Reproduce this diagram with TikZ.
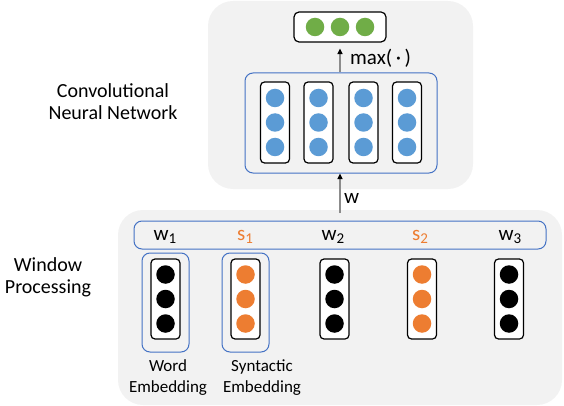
\documentclass[tikz,border=0pt]{standalone}
\usepackage{fontspec}
\setmainfont{Carlito}
\usetikzlibrary{arrows.meta}
\definecolor{panel}{HTML}{F2F2F2}
\definecolor{frameblue}{HTML}{4472C4}
\definecolor{dotblue}{HTML}{5B9BD5}
\definecolor{dotgreen}{HTML}{70AD47}
\definecolor{dotorange}{HTML}{ED7D31}
\definecolor{shaft}{HTML}{8C8C8C}
\newcommand{\sub}[1]{\raisebox{-0.35ex}{\fontsize{15}{15}\selectfont #1}}
\begin{document}
\begin{tikzpicture}[x=1pt,y=-1pt,
  panelbox/.style={fill=panel, draw=none, rounded corners=25pt, inner sep=0pt},
  groupbox/.style={draw=frameblue, line width=1pt, rounded corners=8pt, inner sep=0pt},
  vecbox/.style={draw=black, line width=1.2pt, rounded corners=4pt, fill=white, inner sep=0pt,
                 minimum width=29pt, minimum height=81pt},
  unit/.style={circle, inner sep=0pt, minimum size=18.5pt},
  lbl/.style={font=\fontsize{20}{22}\selectfont, align=center, inner sep=0pt},
  smalllbl/.style={font=\fontsize{17}{21}\selectfont, align=center, inner sep=0pt},
  toklbl/.style={font=\fontsize{21}{22}\selectfont, inner sep=0pt},
  flow/.style={draw=shaft, line width=1.2pt, -{Triangle[black, length=5.5pt, width=5pt]}}
]
\useasboundingbox (0,0) rectangle (564,406);

% panels
\node[panelbox, minimum width=265pt, minimum height=188pt] (cnnpanel) at (340.5,95) {};
\node[panelbox, minimum width=444pt, minimum height=195pt] (winpanel) at (340,307.5) {};

% side captions
\node[lbl] (cnncap) at (113,102) {Convolutional\\Neural Network};
\node[lbl] (wincap) at (48,277) {Window\\Processing};

% pooled output
\node[draw=black, line width=1.2pt, rounded corners=5pt, fill=white,
      minimum width=92pt, minimum height=30pt, inner sep=0pt] (pool) at (340,27) {};
\foreach \x/\n in {315/1, 340/2, 365/3}
  \node[unit, fill=dotgreen] (g\n) at (\x,27) {};

% convolution feature maps
\node[groupbox, minimum width=192pt, minimum height=100pt] (conv) at (341,123) {};
\foreach \x/\n in {275/1, 318.5/2, 363.5/3, 407/4} {
  \node[vecbox] (c\n) at (\x,122.5) {};
  \foreach \y/\m in {98/a, 122.5/b, 147/c}
    \node[unit, fill=dotblue] (c\n\m) at (\x,\y) {};
}

% window row
\node[groupbox, minimum width=412pt, minimum height=28pt] (row) at (340,235) {};
\node[toklbl] (t1) at (165,237) {w\sub{1}};
\node[toklbl, text=dotorange] (t2) at (245,237) {s\sub{1}};
\node[toklbl] (t3) at (333,237) {w\sub{2}};
\node[toklbl, text=dotorange] (t4) at (420,237) {s\sub{2}};
\node[toklbl] (t5) at (510,237) {w\sub{3}};

% embedding groups
\node[groupbox, minimum width=47pt, minimum height=99pt] (wordgrp) at (165.5,302.5) {};
\node[groupbox, minimum width=47pt, minimum height=99pt] (syngrp) at (245.5,302.5) {};

\foreach \x/\n/\c in {165.5/1/black, 245.5/2/dotorange, 334.5/3/black, 422/4/dotorange, 509/5/black} {
  \node[vecbox, minimum height=80pt] (e\n) at (\x,299) {};
  \foreach \y/\m in {274.5/a, 299/b, 323.5/c}
    \node[unit, fill=\c] (e\n\m) at (\x,\y) {};
}

\node[smalllbl] (wordlbl) at (168,378) {Word\\Embedding};
\node[smalllbl] (synlbl) at (262,378) {Syntactic\\Embedding};

% connectors
\coordinate (wfoot) at (340,213);
\draw[flow] (wfoot) -- (wfoot |- conv.south);
\node[toklbl, anchor=west] (wlbl) at (344,198) {w};
\draw[flow, shorten >=6pt] (conv.north -| pool) -- (pool.south);
\node[toklbl, anchor=west] (maxlbl) at (350,58) {max(\,·\,)};
\end{tikzpicture}
\end{document}
